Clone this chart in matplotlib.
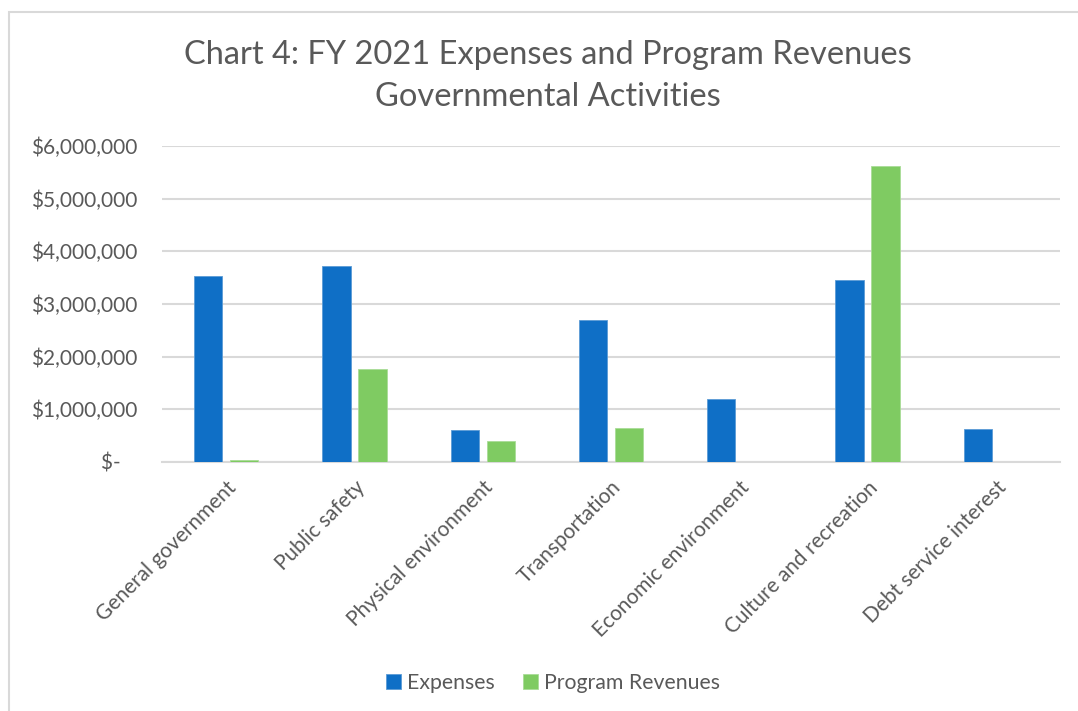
import matplotlib
matplotlib.use("Agg")
import matplotlib.pyplot as plt
import numpy as np
from matplotlib.patches import Rectangle
from matplotlib.ticker import FuncFormatter

categories = ["General government", "Public safety", "Physical environment",
              "Transportation", "Economic environment", "Culture and recreation",
              "Debt service interest"]
expenses = [3540000, 3720000, 610000, 2690000, 1200000, 3450000, 620000]
program_revenues = [40000, 1760000, 400000, 650000, 0, 5620000, 0]
yticks = [0, 1000000, 2000000, 3000000, 4000000, 5000000, 6000000]

blue = "#0F6FC6"
green = "#7FCB62"
text_col = "#595959"
grid_col = "#D9D9D9"

plt.rcParams['font.family'] = ['Lato', 'DejaVu Sans']

fig = plt.figure(figsize=(10.78, 7.11), dpi=100)
fig.patch.set_facecolor("white")

# outer chart frame
fig.patches.append(Rectangle((9 / 1078, -0.05), 1.1, 1 - 12 / 711 + 0.05,
                             transform=fig.transFigure, fill=False,
                             edgecolor=grid_col, linewidth=1.5))

ax = fig.add_axes([162 / 1078, 1 - 462 / 711, 898 / 1078, 316 / 711])

x = np.arange(len(categories))
w = 0.22
ax.bar(x - 0.03 - w / 2, expenses, w, color=blue, edgecolor="#5B9BD5", linewidth=0.6, label="Expenses", zorder=3)
ax.bar(x + 0.03 + w / 2, program_revenues, w, color=green, edgecolor="#A9DC97", linewidth=0.6, label="Program Revenues", zorder=3)

ax.set_xlim(-0.5, len(categories) - 0.5)
ax.set_ylim(0, 6000000)
ax.set_yticks(yticks)
# accounting style: zero shown as a dash
ax.yaxis.set_major_formatter(FuncFormatter(lambda v, p: "$-   " if v == 0 else "${:,.0f}".format(v)))
ax.grid(axis="y", color=grid_col, linewidth=1.5, zorder=0)
for s in ["top", "right", "left"]:
    ax.spines[s].set_visible(False)
ax.spines["bottom"].set_color(grid_col)
ax.spines["bottom"].set_linewidth(1.5)
ax.tick_params(axis="both", length=0, colors=text_col, labelsize=15)
ax.tick_params(axis="y", pad=18)
ax.set_xticks(x)
ax.set_xticklabels(categories, rotation=45, ha="right", rotation_mode="anchor")
ax.tick_params(axis="x", pad=11)

fig.text(0.508, 1 - 55 / 711, "Chart 4: FY 2021 Expenses and Program Revenues",
         ha="center", va="center", fontsize=23.5, color=text_col)
fig.text(0.508, 1 - 97 / 711, "Governmental Activities",
         ha="center", va="center", fontsize=23.5, color=text_col)

fig.legend(loc="center", bbox_to_anchor=(0.513, 1 - 683 / 711), ncol=2, frameon=False,
           fontsize=15.3, labelcolor=text_col, handlelength=0.7, handleheight=0.7,
           handletextpad=0.3, columnspacing=1.3)

fig.savefig("out.png", dpi=100, facecolor="white")
